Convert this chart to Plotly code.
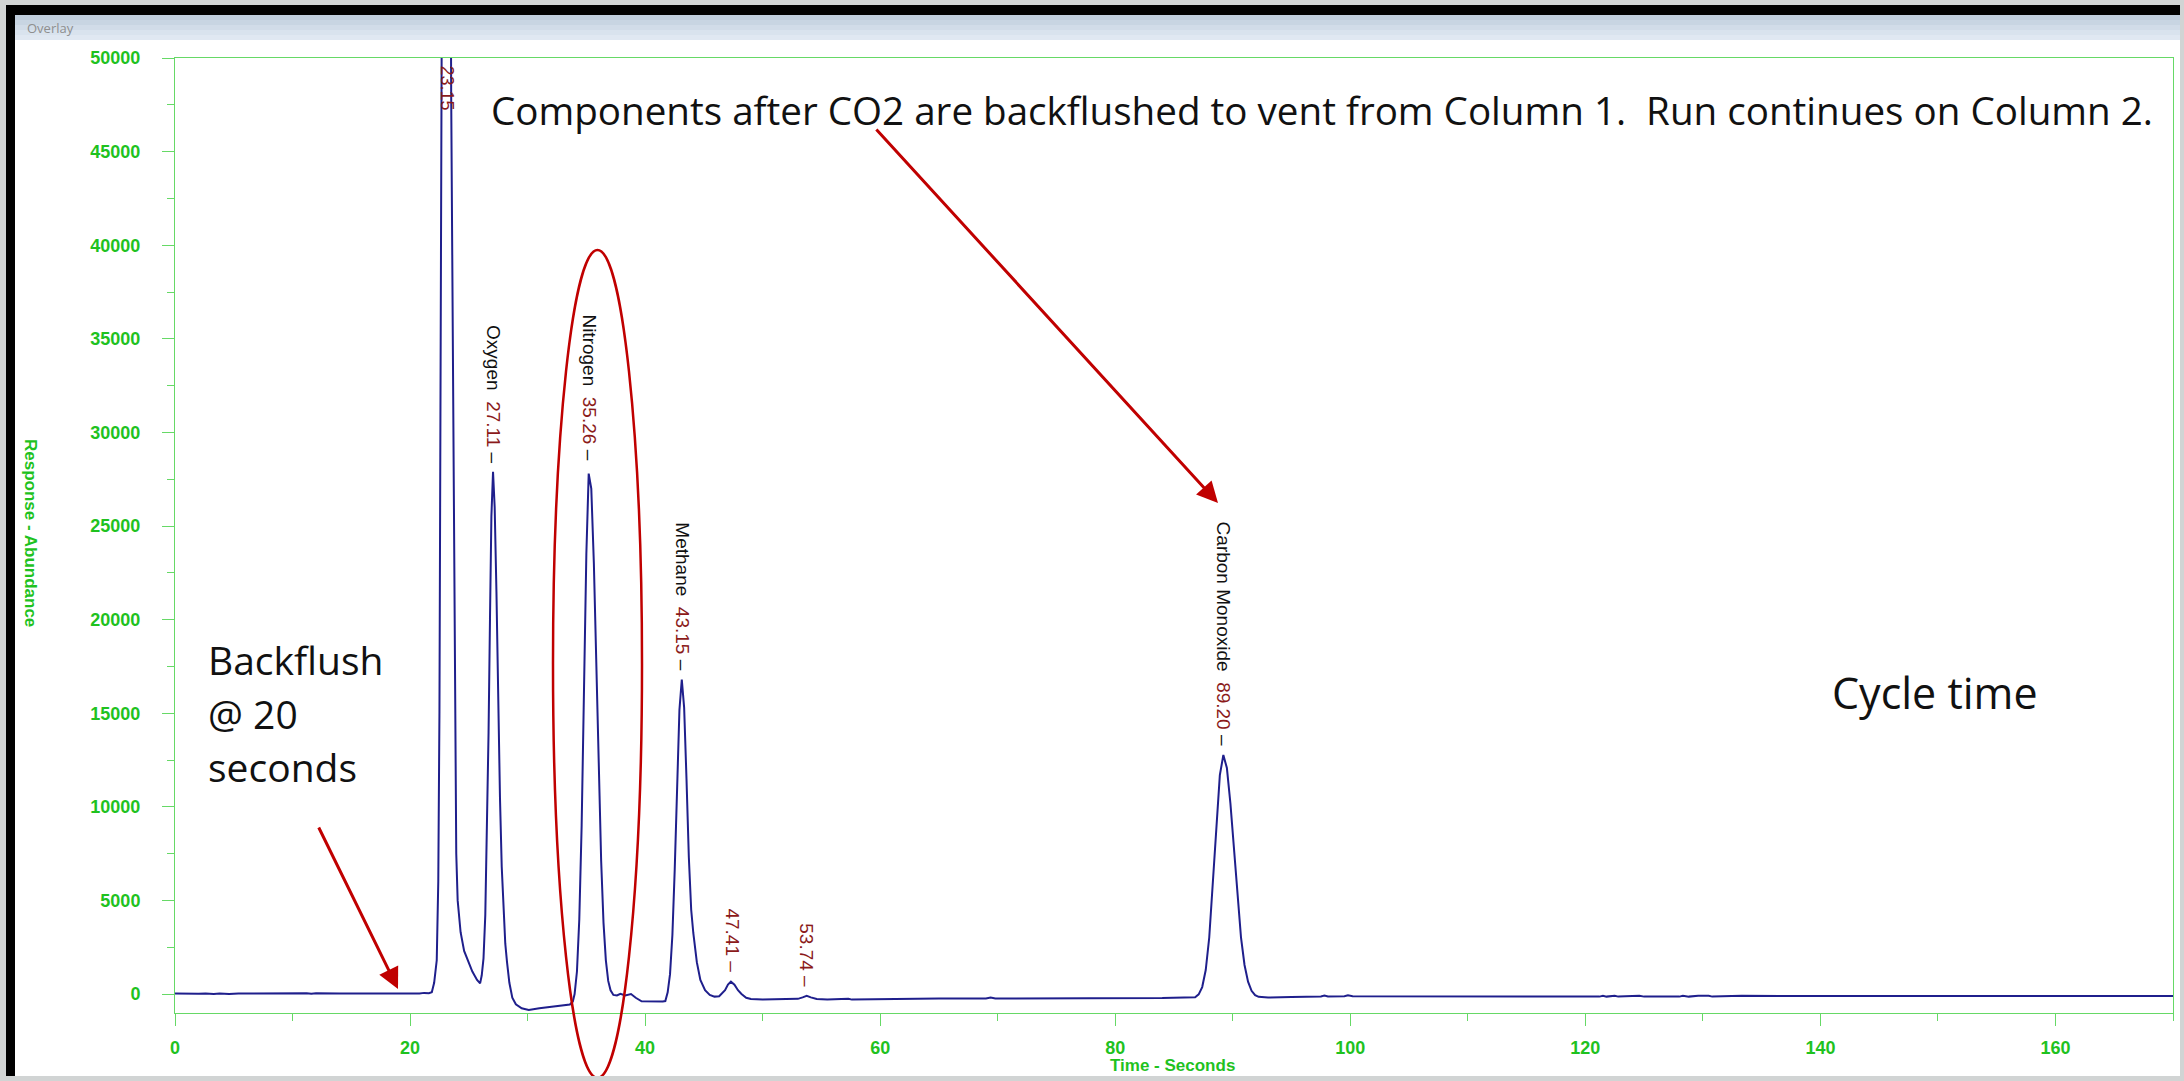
import plotly.graph_objects as go

# ---------------- data ----------------
time_s = [0, 0.8, 1.2, 2.0, 2.6, 3.3, 3.8, 4.6, 5.4, 7.0, 9.0, 11.2, 11.6, 12.0, 14.0, 16.5, 17.0, 17.5,
          19.5, 20.8, 21.2, 21.6, 21.85, 22.05, 22.27, 22.4, 22.5, 22.57, 22.62, 22.66, 22.75, 23.1, 23.42,
          23.5, 23.58, 23.66, 23.72, 23.78, 23.85, 23.93, 24.05, 24.3, 24.6, 24.9, 25.3, 25.7, 25.96,
          26.1, 26.25, 26.4, 26.55, 26.68, 26.8, 26.92, 27.06, 27.2, 27.35, 27.5, 27.65, 27.8, 27.95,
          28.1, 28.25, 28.45, 28.7, 29.0, 29.5, 30.1, 31.0, 31.9, 33.0, 33.6, 33.85, 34.0, 34.2, 34.4,
          34.6, 34.8, 35.0, 35.2, 35.42, 35.64, 35.86, 36.06, 36.26, 36.46, 36.66, 36.86, 37.06,
          37.3, 37.6, 37.9, 38.3, 38.8, 39.2, 39.7, 40.5, 41.5, 41.72, 41.92, 42.12, 42.32, 42.52,
          42.72, 42.92, 43.12, 43.32, 43.52, 43.72, 43.92, 44.1, 44.4, 44.7, 45.1, 45.5, 45.9, 46.3,
          46.8, 47.05, 47.3, 47.6, 47.9, 48.2, 48.6, 49.0, 50.0, 51.5, 53.0, 53.4, 53.75, 54.1, 54.6,
          55.5, 57.0, 57.3, 57.6, 60.0, 62.0, 65.0, 69.0, 69.4, 69.8, 75.0, 80.0, 84.0, 86.8, 87.1,
          87.4, 87.7, 88.0, 88.3, 88.6, 88.9, 89.2, 89.5, 89.8, 90.1, 90.4, 90.7, 91.0, 91.3, 91.6,
          91.9, 92.2, 93.0, 95.0, 97.5, 97.8, 98.1, 99.5, 99.8, 100.2, 105.0, 110.0, 115.0, 121.2,
          121.5, 121.8, 122.5, 122.8, 124.6, 125.0, 128.0, 128.3, 128.8, 129.6, 130.5, 130.8, 133.3,
          134.6, 134.9, 135.9, 136.2, 150.0, 170.0]
response = [30, 10, 30, 10, 30, 0, 20, 0, 30, 40, 40, 40, 10, 40, 30, 20, 50, 20,
            20, 30, 60, 40, 100, 600, 1800, 6000, 15000, 28000, 38000, 50000, 62000, 68000, 62000,
            48000, 40000, 32000, 26000, 18000, 12000, 7500, 5000, 3300, 2300, 1800, 1200, 750, 570,
            1000, 1900, 4200, 8500, 14000, 20000, 25500, 27900, 26000, 21500, 15500, 10500, 6800, 4300,
            2700, 1700, 600, -200, -550, -760, -850, -760, -680, -620, -560, -400, 0, 1200, 4000,
            9000, 16000, 23500, 27800, 27000, 23000, 17300, 11700, 7100, 3800, 1800, 700, 200,
            -50, -80, 10, -80, 0, -200, -390, -410, -400, -380, 90, 1060, 3140, 6670,
            11190, 15180, 16800, 15300, 11500, 7300, 4500, 3260, 1700, 750, 200, -50, -140, -120,
            200, 500, 660, 500, 200, 0, -200, -270, -290, -280, -260, -180, -100, -180, -270,
            -300, -290, -250, -300, -280, -250, -240, -240, -190, -240, -230, -220, -220, -170, -20,
            370, 1280, 3030, 5740, 8970, 11690, 12770, 12070, 10180, 7670, 5130, 3030, 1550, 660, 170,
            -60, -150, -190, -160, -130, -80, -130, -120, -70, -120, -130, -130, -140, -140,
            -100, -140, -100, -140, -100, -140, -140, -100, -140, -100, -100, -140, -100,
            -100, -140, -110, -100, -105, -105]

peak_times = [23.15, 27.11, 35.26, 43.15, 47.41, 53.74, 89.20]
peak_heights = [50000, 27900, 28000, 16800, 660, -100, 12770]
peak_names = ["", "Oxygen", "Nitrogen", "Methane", "", "", "Carbon Monoxide"]

x_ticks = [0, 20, 40, 60, 80, 100, 120, 140, 160]
y_ticks = [0, 5000, 10000, 15000, 20000, 25000, 30000, 35000, 40000, 45000, 50000]

# ---------------- layout geometry (pixels) ----------------
W, H = 2184, 1081
PL, PR, PT, PB = 175, 2173, 58, 1013


def px(x):
    return (x - PL) / (PR - PL)


def py(y):
    return (PB - y) / (PB - PT)


GREEN_TXT = "#1fc21f"
GREEN_LINE = "#66d966"
RED = "#c00000"
NUMRED = "#8b1a1a"
GRAY = "#d1d4d4"

fig = go.Figure()
fig.add_trace(go.Scatter(x=time_s, y=response, mode="lines",
                         line=dict(color="#1f1f8c", width=2), hoverinfo="skip", showlegend=False))

shapes = []


def rect(x0, y0, x1, y1, color, layer="below"):
    shapes.append(dict(type="rect", xref="paper", yref="paper", x0=px(x0), x1=px(x1),
                       y0=py(y1), y1=py(y0), fillcolor=color, line=dict(width=0), layer=layer))


# window frame
rect(15, 40, 2180, 1076, "white")
rect(6, 5, 2180, 15, "black")
rect(6, 5, 15, 1076, "black")
bar_cols = ["#bfcddc", "#c8d5e2", "#d1dce8", "#d9e3ee", "#e0e8f2"]
for i, c in enumerate(bar_cols):
    rect(15, 15 + 5 * i, 2180, 20 + 5 * i, c)

# red ellipse around nitrogen
shapes.append(dict(type="circle", xref="paper", yref="paper", x0=px(553), x1=px(642),
                   y0=py(1078), y1=py(250), line=dict(color=RED, width=2.5), layer="above"))
# bottom border above everything
rect(0, 1076, 2184, 1081, GRAY, layer="above")

annotations = []
# title bar text
annotations.append(dict(text="Overlay", xref="paper", yref="paper", x=px(25), y=py(28),
                        xanchor="left", yanchor="middle", showarrow=False,
                        font=dict(family="Open Sans", size=13, color="#8e8e8e")))
# axis titles
annotations.append(dict(text="Response - Abundance", xref="paper", yref="paper", x=px(31), y=py(533),
                        textangle=90, xanchor="center", yanchor="middle", showarrow=False,
                        font=dict(family="Liberation Sans", size=17, color=GREEN_TXT, weight="bold")))
annotations.append(dict(text="Time - Seconds", xref="paper", yref="paper", x=px(1172), y=py(1065),
                        xanchor="center", yanchor="middle", showarrow=False,
                        font=dict(family="Liberation Sans", size=17, color=GREEN_TXT, weight="bold")))

# peak labels
for t, h, name in zip(peak_times, peak_heights, peak_names):
    num = f'<span style="color:{NUMRED}">{t:.2f}</span>'
    if t == peak_times[0]:
        annotations.append(dict(text=num, x=t, y=h, xref="x", yref="y", textangle=90,
                                xanchor="center", yanchor="top", yshift=-5, showarrow=False,
                                font=dict(family="Liberation Sans", size=18, color=NUMRED)))
        continue
    if name:
        txt = name + "\u00a0\u00a0" + num + "\u00a0–"
    else:
        txt = num + f'<span style="color:{NUMRED}">\u00a0–</span>'
    annotations.append(dict(text=txt, x=t, y=h, xref="x", yref="y", textangle=90,
                            xanchor="center", yanchor="bottom", yshift=7, showarrow=False,
                            font=dict(family="Liberation Sans", size=19, color="#111111")))

# slide overlay texts
SLIDE = "Open Sans"
annotations.append(dict(text="Components after CO2 are backflushed to vent from Column 1.\u00a0 Run continues on Column 2.",
                        xref="paper", yref="paper", x=px(489), y=py(110), xanchor="left", yanchor="middle",
                        showarrow=False, font=dict(family=SLIDE, size=38.6, color="#111111")))
for txt, yc in [("Backflush", 660), ("@ 20", 713), ("seconds", 766)]:
    annotations.append(dict(text=txt, xref="paper", yref="paper", x=px(206), y=py(yc),
                            xanchor="left", yanchor="middle", showarrow=False,
                            font=dict(family=SLIDE, size=39, color="#111111")))
annotations.append(dict(text="Cycle time", xref="paper", yref="paper", x=px(1830), y=py(692),
                        xanchor="left", yanchor="middle", showarrow=False,
                        font=dict(family=SLIDE, size=43, color="#111111")))
# arrows
annotations.append(dict(text="", xref="paper", yref="paper", x=px(1218), y=py(503),
                        ax=875 - 1218, ay=128 - 503, showarrow=True, arrowhead=2, arrowsize=1.4,
                        arrowwidth=3, arrowcolor=RED, standoff=0))
annotations.append(dict(text="", xref="paper", yref="paper", x=px(398), y=py(989),
                        ax=318 - 398, ay=826 - 989, showarrow=True, arrowhead=2, arrowsize=1.4,
                        arrowwidth=3, arrowcolor=RED, standoff=0))

axis_common = dict(showline=True, linecolor=GREEN_LINE, linewidth=1, mirror=True, showgrid=False,
                   zeroline=False, ticks="outside", ticklen=12, tickcolor=GREEN_LINE, tickwidth=1,
                   tickfont=dict(family="Liberation Sans", size=18, color=GREEN_TXT, weight="bold"))

fig.update_layout(
    width=W, height=H, autosize=False,
    margin=dict(l=PL, r=W - PR, t=PT, b=H - PB, pad=0),
    paper_bgcolor=GRAY, plot_bgcolor="rgba(0,0,0,0)",
    showlegend=False,
    xaxis=dict(range=[0, 170], tickvals=x_ticks, ticktext=[str(v) for v in x_ticks],
               minor=dict(dtick=10, tick0=0, ticks="outside", ticklen=7, tickcolor=GREEN_LINE, showgrid=False),
               ticklabelstandoff=6, **axis_common),
    yaxis=dict(range=[-1015, 50000], tickvals=y_ticks, ticktext=[str(v) for v in y_ticks],
               minor=dict(dtick=2500, tick0=0, ticks="outside", ticklen=7, tickcolor=GREEN_LINE, showgrid=False),
               ticklabelstandoff=18, **axis_common),
    shapes=shapes,
    annotations=annotations,
)

fig.write_html("out.html", config={"displayModeBar": False},
               post_script="document.body.style.margin='0px';document.body.style.overflow='hidden';")
